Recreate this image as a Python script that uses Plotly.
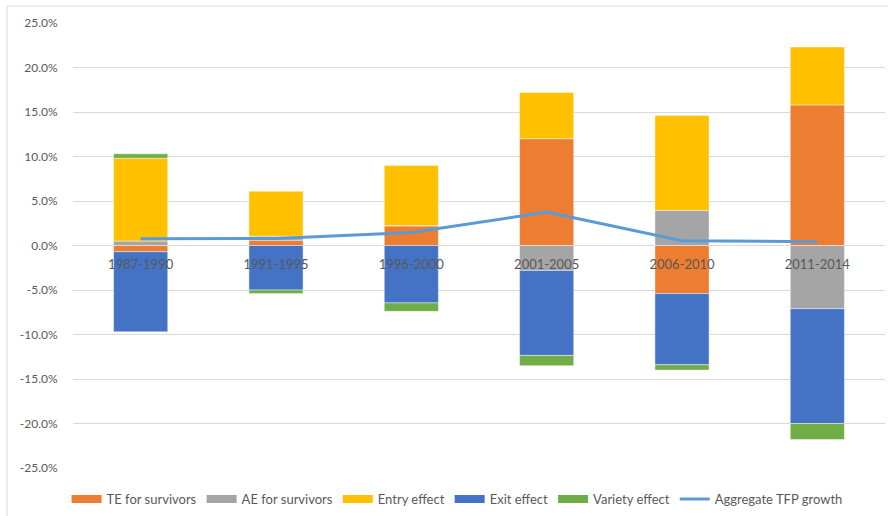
import plotly.graph_objects as go

# Decomposition of aggregate TFP growth by period (percent)
periods = ["1987-1990", "1991-1995", "1996-2000", "2001-2005", "2006-2010", "2011-2014"]
te_survivors = [-0.7, 0.6, 2.2, 12.0, -5.4, 15.8]
ae_survivors = [0.5, 0.45, 0.05, -2.8, 3.95, -7.1]
entry_effect = [9.3, 5.05, 6.75, 5.2, 10.65, 6.5]
exit_effect = [-9.0, -5.0, -6.45, -9.55, -8.0, -12.9]
variety_effect = [0.5, -0.4, -0.95, -1.15, -0.6, -1.8]
aggregate_tfp = [0.75, 0.8, 1.45, 3.75, 0.53, 0.42]

y_ticks = [25, 20, 15, 10, 5, 0, -5, -10, -15, -20, -25]

W, H = 888, 516
ML, MR, MT, MB = 73, 3, 23, 48
PW, PH = W - ML - MR, H - MT - MB

FONT = "Lato"
TXT = "#595959"
GRID = "#d9d9d9"

bar_series = [
    ("TE for survivors", te_survivors, "#ED7D31"),
    ("AE for survivors", ae_survivors, "#A5A5A5"),
    ("Entry effect", entry_effect, "#FFC000"),
    ("Exit effect", exit_effect, "#4472C4"),
    ("Variety effect", variety_effect, "#70AD47"),
]

fig = go.Figure()
for name, vals, color in bar_series:
    fig.add_trace(go.Bar(
        x=periods, y=vals, name=name, legendgroup=name, showlegend=False,
        marker=dict(color=color, line=dict(color="rgba(255,255,255,0.55)", width=0.8)),
        width=0.4,
    ))

# legend keys drawn as wide flat swatches
for name, vals, color in bar_series:
    fig.add_trace(go.Scatter(
        x=[None], y=[None], name=name, legendgroup=name, mode="lines",
        line=dict(color=color, width=8), showlegend=True,
    ))

fig.add_trace(go.Scatter(
    x=periods, y=aggregate_tfp, name="Aggregate TFP growth",
    mode="lines", line=dict(color="#5B9BD5", width=3),
))

# outer chart frame (left and top edges visible)
fx0 = (7 - ML) / PW
fy1 = 1 + (MT - 6) / PH
fig.add_shape(type="rect", xref="paper", yref="paper",
              x0=fx0, x1=1 + (MR + 20) / PW, y0=-(MB + 20) / PH, y1=fy1,
              line=dict(color=GRID, width=1), fillcolor="rgba(0,0,0,0)", layer="below")

fig.update_layout(
    width=W, height=H,
    margin=dict(l=ML, r=MR, t=MT, b=MB, pad=0, autoexpand=False),
    barmode="relative",
    plot_bgcolor="white", paper_bgcolor="white",
    font=dict(family=FONT, size=13, color=TXT),
    showlegend=True,
    legend=dict(orientation="h", x=0.473, xanchor="center", y=-(499 - 468) / PH,
                yanchor="middle", font=dict(size=13, color=TXT), itemwidth=30,
                traceorder="normal", bgcolor="rgba(0,0,0,0)"),
    xaxis=dict(
        anchor="free", position=0.5, showgrid=False, showline=False, zeroline=False,
        ticks="outside", ticklen=7, tickcolor="rgba(0,0,0,0)",
        tickfont=dict(family=FONT, size=13, color=TXT),
        layer="above traces",
    ),
    yaxis=dict(
        range=[-25, 25], tickvals=y_ticks,
        ticktext=[f"{v:.1f}%" for v in y_ticks],
        showgrid=True, gridcolor=GRID, gridwidth=1,
        zeroline=True, zerolinecolor=GRID, zerolinewidth=1,
        showline=False, ticks="outside", ticklen=12, tickcolor="rgba(0,0,0,0)",
        tickfont=dict(family=FONT, size=12, color=TXT),
        domain=[0, 1],
    ),
)

fig.write_html("out.html")
